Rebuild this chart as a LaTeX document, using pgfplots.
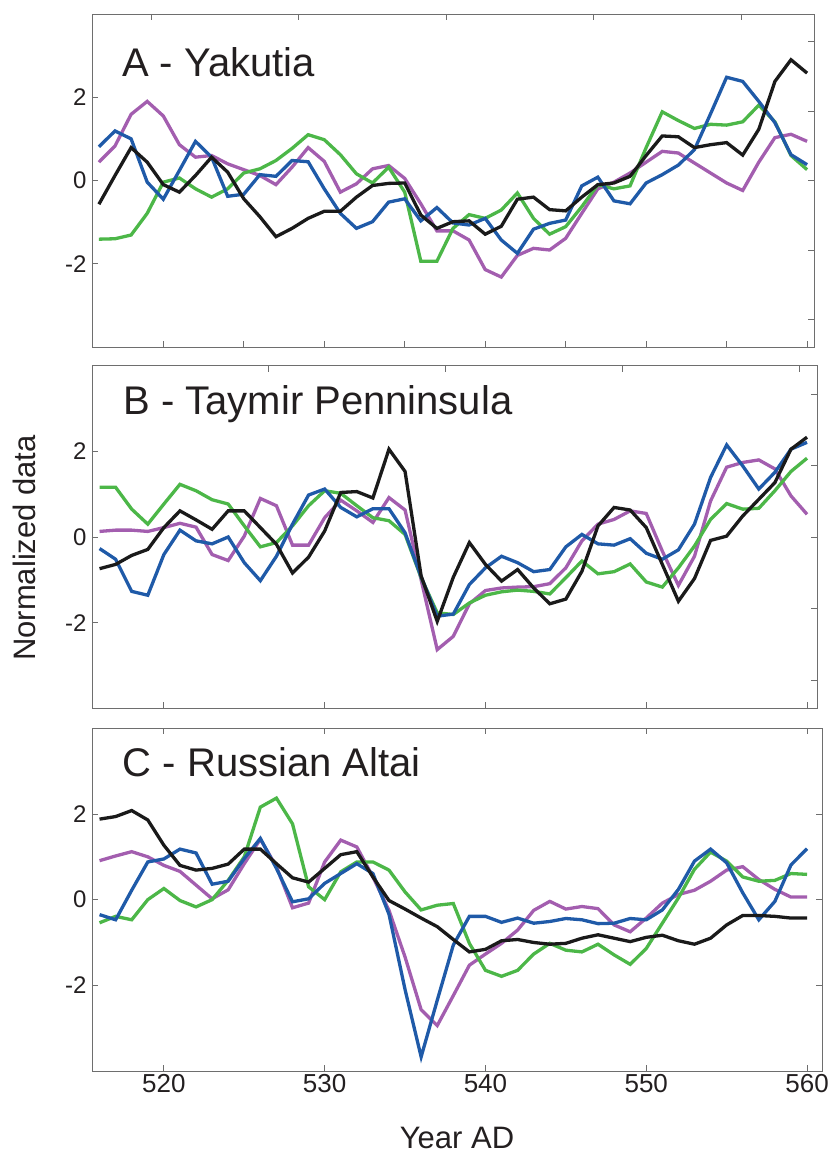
\documentclass[border=0pt]{standalone}
\usepackage{pgfplots}
\pgfplotsset{compat=1.18}
\usepackage{pgfplotstable}
\usepackage{fontspec}
\setmainfont{Liberation Sans}
\definecolor{cblack}{RGB}{26,26,26}
\definecolor{cblue}{RGB}{31,90,168}
\definecolor{cpurple}{RGB}{163,94,175}
\definecolor{cgreen}{RGB}{76,183,72}
\definecolor{framegray}{RGB}{110,110,110}
\definecolor{textc}{RGB}{35,31,32}

\pgfplotstableread{
year black blue purple green
516 -0.57 0.81 0.44 -1.41
517 0.12 1.19 0.83 -1.40
518 0.79 1.00 1.59 -1.31
519 0.44 -0.04 1.90 -0.79
520 -0.10 -0.45 1.55 -0.04
521 -0.28 0.24 0.86 0.06
522 0.12 0.94 0.56 -0.20
523 0.56 0.56 0.60 -0.40
524 0.20 -0.38 0.40 -0.20
525 -0.44 -0.33 0.26 0.18
526 -0.87 0.14 0.12 0.28
527 -1.35 0.10 -0.10 0.48
528 -1.15 0.48 0.32 0.77
529 -0.91 0.45 0.79 1.10
530 -0.74 -0.20 0.46 0.98
531 -0.74 -0.79 -0.28 0.62
532 -0.40 -1.15 -0.08 0.16
533 -0.12 -0.99 0.28 -0.06
534 -0.07 -0.52 0.36 0.32
535 -0.06 -0.44 0.05 -0.28
536 -0.83 -0.97 -0.56 -1.94
537 -1.15 -0.65 -1.21 -1.94
538 -0.99 -1.02 -1.21 -1.15
539 -0.97 -1.07 -1.43 -0.82
540 -1.29 -0.91 -2.14 -0.91
541 -1.10 -1.43 -2.32 -0.71
542 -0.45 -1.75 -1.80 -0.30
543 -0.40 -1.17 -1.63 -0.91
544 -0.70 -1.03 -1.67 -1.29
545 -0.73 -0.95 -1.39 -1.11
546 -0.40 -0.13 -0.79 -0.63
547 -0.10 0.08 -0.20 -0.10
548 -0.06 -0.49 -0.04 -0.20
549 0.10 -0.56 0.18 -0.13
550 0.60 -0.06 0.44 0.79
551 1.07 0.14 0.70 1.65
552 1.05 0.37 0.66 1.44
553 0.79 0.74 0.42 1.25
554 0.86 1.60 0.18 1.35
555 0.91 2.48 -0.06 1.33
556 0.61 2.38 -0.24 1.41
557 1.23 1.90 0.44 1.81
558 2.38 1.39 1.03 1.41
559 2.90 0.62 1.11 0.60
560 2.58 0.38 0.94 0.26
}\tabA

\pgfplotstableread{
year black blue purple green
516 -0.74 -0.27 0.13 1.16
517 -0.64 -0.52 0.16 1.16
518 -0.43 -1.27 0.16 0.65
519 -0.29 -1.36 0.13 0.30
520 0.22 -0.41 0.22 0.77
521 0.61 0.16 0.32 1.23
522 0.40 -0.09 0.23 1.08
523 0.18 -0.16 -0.41 0.87
524 0.61 0.00 -0.55 0.77
525 0.61 -0.60 0.02 0.26
526 0.22 -1.02 0.90 -0.23
527 -0.17 -0.45 0.73 -0.13
528 -0.84 0.30 -0.19 0.26
529 -0.47 0.98 -0.19 0.73
530 0.14 1.12 0.45 1.08
531 1.04 0.69 0.86 1.02
532 1.06 0.47 0.61 0.73
533 0.91 0.66 0.34 0.45
534 2.05 0.66 0.92 0.38
535 1.53 0.10 0.63 0.06
536 -0.91 -0.93 -1.00 -0.95
537 -1.97 -1.85 -2.63 -1.77
538 -0.94 -1.80 -2.32 -1.81
539 -0.13 -1.11 -1.56 -1.54
540 -0.64 -0.72 -1.25 -1.36
541 -1.03 -0.45 -1.19 -1.28
542 -0.76 -0.60 -1.17 -1.24
543 -1.19 -0.81 -1.16 -1.27
544 -1.56 -0.76 -1.09 -1.33
545 -1.45 -0.23 -0.72 -0.95
546 -0.80 0.06 -0.09 -0.56
547 0.26 -0.16 0.30 -0.86
548 0.69 -0.19 0.41 -0.81
549 0.63 -0.04 0.61 -0.63
550 0.22 -0.38 0.55 -1.05
551 -0.64 -0.52 -0.33 -1.17
552 -1.50 -0.30 -1.13 -0.72
553 -0.97 0.30 -0.45 -0.21
554 -0.08 1.39 0.84 0.41
555 0.02 2.15 1.63 0.78
556 0.49 1.66 1.74 0.65
557 0.88 1.12 1.80 0.67
558 1.27 1.51 1.59 1.08
559 2.05 2.05 0.96 1.53
560 2.33 2.21 0.53 1.84
}\tabB

\pgfplotstableread{
year black blue purple green
516 1.88 -0.35 0.91 -0.54
517 1.94 -0.47 1.02 -0.39
518 2.08 0.22 1.12 -0.47
519 1.86 0.88 1.00 0.00
520 1.27 0.95 0.80 0.26
521 0.80 1.18 0.66 -0.02
522 0.69 1.09 0.34 -0.17
523 0.73 0.36 0.02 0.00
524 0.83 0.43 0.23 0.45
525 1.18 0.96 0.84 1.00
526 1.18 1.43 1.41 2.16
527 0.84 0.73 0.77 2.37
528 0.51 -0.05 -0.19 1.77
529 0.41 0.02 -0.08 0.30
530 0.73 0.38 0.88 0.00
531 1.05 0.61 1.39 0.65
532 1.12 0.84 1.23 0.88
533 0.53 0.61 0.53 0.88
534 -0.02 -0.34 -0.25 0.69
535 -0.22 -2.10 -1.34 0.18
536 -0.43 -3.67 -2.57 -0.24
537 -0.63 -2.35 -2.94 -0.13
538 -0.93 -1.06 -2.24 -0.09
539 -1.22 -0.39 -1.53 -1.02
540 -1.16 -0.39 -1.27 -1.65
541 -0.96 -0.53 -1.02 -1.79
542 -0.93 -0.43 -0.71 -1.65
543 -1.00 -0.55 -0.25 -1.27
544 -1.04 -0.51 -0.04 -1.02
545 -1.02 -0.44 -0.22 -1.18
546 -0.90 -0.47 -0.16 -1.22
547 -0.82 -0.56 -0.21 -1.04
548 -0.90 -0.55 -0.59 -1.29
549 -0.98 -0.44 -0.75 -1.51
550 -0.88 -0.47 -0.43 -1.14
551 -0.83 -0.24 -0.08 -0.55
552 -0.96 0.24 0.12 0.04
553 -1.04 0.90 0.22 0.71
554 -0.90 1.18 0.43 1.11
555 -0.59 0.86 0.69 0.90
556 -0.37 0.16 0.77 0.53
557 -0.37 -0.47 0.47 0.43
558 -0.39 -0.04 0.24 0.45
559 -0.43 0.81 0.06 0.61
560 -0.43 1.19 0.06 0.59
}\tabC

\pgfplotsset{
  panel/.style={
    scale only axis,
    ymin=-4, ymax=4,
    tick align=inside,
    axis line style={draw=framegray, line width=0.9pt},
    tick style={draw=framegray, line width=0.9pt},
    major tick length=6pt,
    /pgf/number format/assume math mode=true,
    yticklabel style={font=\fontsize{24}{24}\selectfont, text=textc, xshift=-2pt},
    xticklabel style={font=\fontsize{26}{26}\selectfont, text=textc},
    every axis plot/.append style={line width=3.3pt, mark=none},
  },
  twinax/.style={
    scale only axis,
    ymin=-4, ymax=4,
    tick align=inside,
    axis line style={draw=framegray, line width=0.9pt},
    tick style={draw=framegray, line width=0.9pt},
    major tick length=6pt,
    xtick pos=right, ytick pos=right,
    xticklabels={}, yticklabels={},
  },
}
\tikzset{ttl/.style={anchor=base west, font=\fontsize{40}{44}\selectfont, text=textc, inner sep=0pt}}

\begin{document}
\begin{tikzpicture}
\useasboundingbox (0,0) rectangle (832pt,1153pt);

% ---------- Panel A ----------
\begin{axis}[twinax, at={(92pt,806pt)}, anchor=south west, width=722pt, height=333pt,
  xmin=515.57, xmax=560.43,
  xtick={519.27,528.4,537.6,546.7,555.9},
  ytick={-3.34,-1.67,0,1.67,3.34}]
\end{axis}
\begin{axis}[panel, at={(92pt,806pt)}, anchor=south west, width=722pt, height=333pt,
  xmin=515.57, xmax=560.43,
  xtick={520,525,...,560}, xticklabels={},
  ytick={-2,0,2},
  xtick pos=left, ytick pos=left]
  \addplot[cpurple] table[x=year,y=purple] {\tabA};
  \addplot[cgreen]  table[x=year,y=green]  {\tabA};
  \addplot[cblue]   table[x=year,y=blue]   {\tabA};
  \addplot[cblack]  table[x=year,y=black]  {\tabA};
  \node[ttl] at (rel axis cs:0.0416,0.811) {A - Yakutia};
\end{axis}

% ---------- Panel B ----------
\begin{axis}[twinax, at={(92pt,444.7pt)}, anchor=south west, width=725pt, height=342.6pt,
  xmin=515.53, xmax=560.62,
  xtick={526.5,537.5,548.5,559.5},
  ytick={-3.34,-1.67,0,1.67,3.34}]
\end{axis}
\begin{axis}[panel, at={(92pt,444.7pt)}, anchor=south west, width=725pt, height=342.6pt,
  xmin=515.53, xmax=560.62,
  xtick={520,530,...,560}, xticklabels={},
  ytick={-2,0,2},
  xtick pos=left, ytick pos=left,
  ylabel={Normalized data},
  ylabel style={at={(axis description cs:-0.0938,0.468)}, anchor=center,
    font=\fontsize{31}{34}\selectfont, text=textc, inner sep=0pt}]
  \addplot[cpurple] table[x=year,y=purple] {\tabB};
  \addplot[cgreen]  table[x=year,y=green]  {\tabB};
  \addplot[cblue]   table[x=year,y=blue]   {\tabB};
  \addplot[cblack]  table[x=year,y=black]  {\tabB};
  \node[ttl] at (rel axis cs:0.043,0.858) {B - Taymir Penninsula};
\end{axis}

% ---------- Panel C ----------
\begin{axis}[panel, at={(92pt,82pt)}, anchor=south west, width=730pt, height=342.7pt,
  xmin=515.53, xmax=560.93,
  xtick={520,530,...,560},
  ytick={-2,0,2},
  xlabel={Year AD},
  xlabel style={at={(axis description cs:0.5,-0.226)}, anchor=base,
    font=\fontsize{31}{34}\selectfont, text=textc, inner sep=0pt, text depth=0pt}]
  \addplot[cpurple] table[x=year,y=purple] {\tabC};
  \addplot[cgreen]  table[x=year,y=green]  {\tabC};
  \addplot[cblue]   table[x=year,y=blue]   {\tabC};
  \addplot[cblack]  table[x=year,y=black]  {\tabC};
  \node[ttl] at (rel axis cs:0.042,0.859) {C - Russian Altai};
\end{axis}
\end{tikzpicture}
\end{document}
